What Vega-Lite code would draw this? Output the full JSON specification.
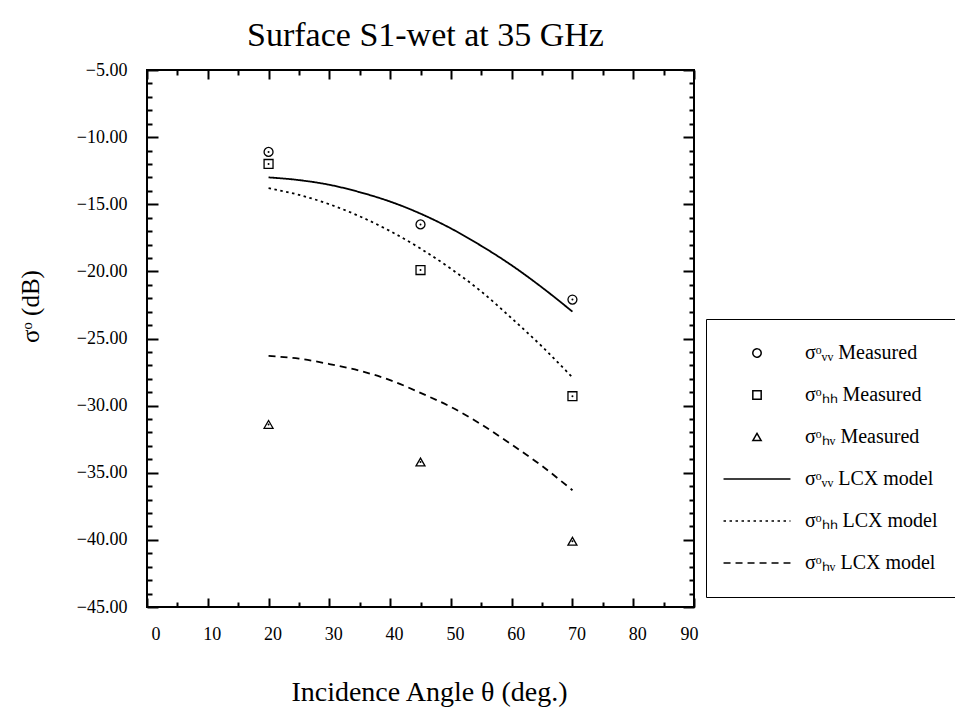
{
  "$schema": "https://vega.github.io/schema/vega-lite/v6.json",
  "width": 547,
  "height": 537,
  "autosize": {"type": "none"},
  "padding": {"left": 147, "top": 70, "right": 261, "bottom": 108},
  "background": "white",
  "title": {"text": "Surface S1-wet at 35 GHz", "font": "Liberation Serif", "fontSize": 34, "fontWeight": "normal", "color": "black", "offset": 8, "dx": 5},
  "config": {
    "view": {"stroke": "black", "strokeWidth": 2},
    "axis": {"domain": false, "grid": false, "tickColor": "black", "tickWidth": 2, "labelColor": "black", "labelFont": "Liberation Serif", "labelFontSize": 18, "titleFont": "Liberation Serif", "titleFontWeight": "normal", "titleColor": "black"},
    "legend": {"title": null, "orient": "none", "legendX": 559, "legendY": 249, "strokeColor": "black", "padding": 24, "labelFont": "Liberation Serif", "labelFontSize": 20, "labelColor": "black", "labelOffset": 38, "symbolOffset": 17, "rowPadding": 22, "symbolSize": 70, "symbolStrokeColor": "black", "symbolStrokeWidth": 1.5}
  },
  "datasets": {
    "measured": [
      {"angle": 20, "sigma": -11.1, "series": "σᵒᵥᵥ Measured"},
      {"angle": 45, "sigma": -16.5, "series": "σᵒᵥᵥ Measured"},
      {"angle": 70, "sigma": -22.1, "series": "σᵒᵥᵥ Measured"},
      {"angle": 20, "sigma": -12.0, "series": "σᵒₕₕ Measured"},
      {"angle": 45, "sigma": -19.9, "series": "σᵒₕₕ Measured"},
      {"angle": 70, "sigma": -29.3, "series": "σᵒₕₕ Measured"},
      {"angle": 20, "sigma": -31.4, "series": "σᵒₕᵥ Measured"},
      {"angle": 45, "sigma": -34.2, "series": "σᵒₕᵥ Measured"},
      {"angle": 70, "sigma": -40.1, "series": "σᵒₕᵥ Measured"}
    ],
    "model": [
      {"angle": 20, "sigma": -13.0, "series": "σᵒᵥᵥ LCX model"},
      {"angle": 25, "sigma": -13.2, "series": "σᵒᵥᵥ LCX model"},
      {"angle": 30, "sigma": -13.55, "series": "σᵒᵥᵥ LCX model"},
      {"angle": 35, "sigma": -14.1, "series": "σᵒᵥᵥ LCX model"},
      {"angle": 40, "sigma": -14.8, "series": "σᵒᵥᵥ LCX model"},
      {"angle": 45, "sigma": -15.7, "series": "σᵒᵥᵥ LCX model"},
      {"angle": 50, "sigma": -16.8, "series": "σᵒᵥᵥ LCX model"},
      {"angle": 55, "sigma": -18.1, "series": "σᵒᵥᵥ LCX model"},
      {"angle": 60, "sigma": -19.55, "series": "σᵒᵥᵥ LCX model"},
      {"angle": 65, "sigma": -21.2, "series": "σᵒᵥᵥ LCX model"},
      {"angle": 70, "sigma": -23.0, "series": "σᵒᵥᵥ LCX model"},
      {"angle": 20, "sigma": -13.8, "series": "σᵒₕₕ LCX model"},
      {"angle": 25, "sigma": -14.3, "series": "σᵒₕₕ LCX model"},
      {"angle": 30, "sigma": -15.0, "series": "σᵒₕₕ LCX model"},
      {"angle": 35, "sigma": -15.9, "series": "σᵒₕₕ LCX model"},
      {"angle": 40, "sigma": -17.0, "series": "σᵒₕₕ LCX model"},
      {"angle": 45, "sigma": -18.3, "series": "σᵒₕₕ LCX model"},
      {"angle": 50, "sigma": -19.8, "series": "σᵒₕₕ LCX model"},
      {"angle": 55, "sigma": -21.5, "series": "σᵒₕₕ LCX model"},
      {"angle": 60, "sigma": -23.5, "series": "σᵒₕₕ LCX model"},
      {"angle": 65, "sigma": -25.6, "series": "σᵒₕₕ LCX model"},
      {"angle": 70, "sigma": -27.9, "series": "σᵒₕₕ LCX model"},
      {"angle": 20, "sigma": -26.3, "series": "σᵒₕᵥ LCX model"},
      {"angle": 25, "sigma": -26.5, "series": "σᵒₕᵥ LCX model"},
      {"angle": 30, "sigma": -26.9, "series": "σᵒₕᵥ LCX model"},
      {"angle": 35, "sigma": -27.4, "series": "σᵒₕᵥ LCX model"},
      {"angle": 40, "sigma": -28.1, "series": "σᵒₕᵥ LCX model"},
      {"angle": 45, "sigma": -29.05, "series": "σᵒₕᵥ LCX model"},
      {"angle": 50, "sigma": -30.1, "series": "σᵒₕᵥ LCX model"},
      {"angle": 55, "sigma": -31.4, "series": "σᵒₕᵥ LCX model"},
      {"angle": 60, "sigma": -32.9, "series": "σᵒₕᵥ LCX model"},
      {"angle": 65, "sigma": -34.5, "series": "σᵒₕᵥ LCX model"},
      {"angle": 70, "sigma": -36.3, "series": "σᵒₕᵥ LCX model"}
    ]
  },
  "resolve": {"axis": {"x": "independent", "y": "independent"}},
  "layer": [
    {
      "data": {"name": "model"},
      "mark": {"type": "line", "color": "black", "strokeWidth": 1.8, "interpolate": "monotone"},
      "encoding": {
        "x": {"field": "angle", "type": "quantitative", "scale": {"domain": [0, 90], "nice": false, "zero": false},
          "axis": {"orient": "bottom", "values": [0,10,20,30,40,50,60,70,80,90], "offset": -9, "tickSize": 9, "labelPadding": 18, "labelOffset": 4, "title": "Incidence Angle θ  (deg.)", "titleFontSize": 28, "titleX": 282, "titleY": 94, "titleBaseline": "middle", "titleAlign": "center"}},
        "y": {"field": "sigma", "type": "quantitative", "scale": {"domain": [-45, -5], "nice": false, "zero": false},
          "axis": {"orient": "left", "values": [-45,-40,-35,-30,-25,-20,-15,-10,-5], "format": ".2f", "offset": -11, "tickSize": 11, "labelPadding": 20, "title": "σᵒ  (dB)", "titleFontSize": 25, "titleX": -128, "titleY": 236, "titleBaseline": "middle", "titleAlign": "center", "titleAngle": -90}},
        "strokeDash": {"field": "series", "type": "nominal",
          "scale": {"domain": ["σᵒᵥᵥ Measured", "σᵒₕₕ Measured", "σᵒₕᵥ Measured", "σᵒᵥᵥ LCX model", "σᵒₕₕ LCX model", "σᵒₕᵥ LCX model"],
                    "range": [[1,0],[1,0],[1,0],[1,0],[2.5,3.5],[7,5]]}}
      }
    },
    {
      "data": {"name": "measured"},
      "mark": {"type": "point", "filled": false, "color": "black", "strokeWidth": 1.3, "size": 80, "opacity": 1},
      "encoding": {
        "x": {"field": "angle", "type": "quantitative",
          "axis": {"orient": "bottom", "values": [5,15,25,35,45,55,65,75,85], "offset": -5, "tickSize": 5, "labels": false, "title": null}},
        "y": {"field": "sigma", "type": "quantitative",
          "axis": {"orient": "left", "values": [-44,-43,-42,-41,-39,-38,-37,-36,-34,-33,-32,-31,-29,-28,-27,-26,-24,-23,-22,-21,-19,-18,-17,-16,-14,-13,-12,-11,-9,-8,-7,-6], "offset": -5, "tickSize": 5, "labels": false, "title": null}},
        "shape": {"field": "series", "type": "nominal",
          "scale": {"domain": ["σᵒᵥᵥ Measured", "σᵒₕₕ Measured", "σᵒₕᵥ Measured", "σᵒᵥᵥ LCX model", "σᵒₕₕ LCX model", "σᵒₕᵥ LCX model"],
                    "range": ["circle", "square", "triangle-up", "M-8,0H8", "M-8,0H8", "M-8,0H8"]}}
      }
    },
    {
      "data": {"name": "measured"},
      "mark": {"type": "point", "filled": true, "color": "black", "size": 4, "shape": "circle", "opacity": 1},
      "encoding": {
        "x": {"field": "angle", "type": "quantitative",
          "axis": {"orient": "top", "values": [0,10,20,30,40,50,60,70,80,90], "offset": -9, "tickSize": 9, "labels": false, "title": null}},
        "y": {"field": "sigma", "type": "quantitative",
          "axis": {"orient": "right", "values": [-45,-40,-35,-30,-25,-20,-15,-10,-5], "offset": -11, "tickSize": 11, "labels": false, "title": null}}
      }
    },
    {
      "data": {"name": "measured"},
      "mark": {"type": "point", "filled": true, "color": "black", "size": 4, "shape": "circle", "opacity": 0},
      "encoding": {
        "x": {"field": "angle", "type": "quantitative",
          "axis": {"orient": "top", "values": [5,15,25,35,45,55,65,75,85], "offset": -5, "tickSize": 5, "labels": false, "title": null}},
        "y": {"field": "sigma", "type": "quantitative",
          "axis": {"orient": "right", "values": [-44,-43,-42,-41,-39,-38,-37,-36,-34,-33,-32,-31,-29,-28,-27,-26,-24,-23,-22,-21,-19,-18,-17,-16,-14,-13,-12,-11,-9,-8,-7,-6], "offset": -5, "tickSize": 5, "labels": false, "title": null}}
      }
    }
  ]
}
